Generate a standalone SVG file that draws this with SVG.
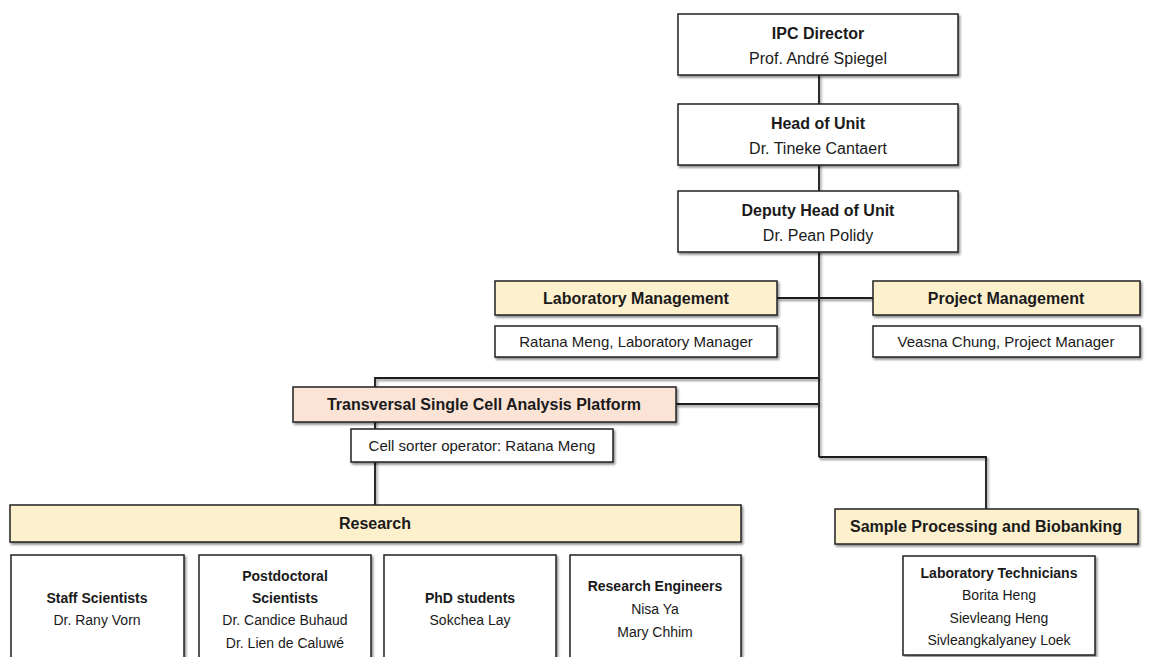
<svg xmlns="http://www.w3.org/2000/svg" width="1150" height="657" viewBox="0 0 1150 657">
<defs>
<filter id="sh" x="-10%" y="-10%" width="120%" height="130%">
<feDropShadow dx="1.5" dy="2" stdDeviation="1.2" flood-color="#000" flood-opacity="0.45"/>
</filter>
<style>
.box{fill:#fff;stroke:#222;stroke-width:1.5;filter:url(#sh)}
.hdr{fill:#fdf0cd;stroke:#222;stroke-width:1.5;filter:url(#sh)}
.pk{fill:#fbe3d6;stroke:#222;stroke-width:1.5;filter:url(#sh)}
.ln{fill:none;stroke:#1a1a1a;stroke-width:1.8}
text{font-family:"Liberation Sans",Arial,sans-serif;fill:#1a1a1a;text-anchor:middle}
.b{font-weight:bold}
.t16{font-size:16px}
.t15{font-size:15px}
.t14{font-size:14px}
</style>
</defs>
<rect width="1150" height="657" fill="#fff"/>
<g id="connectors" filter="url(#sh)">
<line class="ln" x1="819" y1="75" x2="819" y2="457"/>
<line class="ln" x1="777" y1="298" x2="873" y2="298"/>
<path class="ln" d="M819,378 H375 V505"/>
<line class="ln" x1="676" y1="404" x2="819" y2="404"/>
<path class="ln" d="M819,457 H986 V509"/>
</g>
<g id="ipc-director">
<rect class="box" x="678" y="14" width="280" height="61"/>
<text class="b t16" x="818" y="39">IPC Director</text>
<text class="t16" x="818" y="64">Prof. André Spiegel</text>
</g>
<g id="head-of-unit">
<rect class="box" x="678" y="104" width="280" height="61"/>
<text class="b t16" x="818" y="129">Head of Unit</text>
<text class="t16" x="818" y="154">Dr. Tineke Cantaert</text>
</g>
<g id="deputy-head">
<rect class="box" x="678" y="191" width="280" height="61"/>
<text class="b t16" x="818" y="216">Deputy Head of Unit</text>
<text class="t16" x="818" y="241">Dr. Pean Polidy</text>
</g>
<g id="lab-management">
<rect class="hdr" x="495" y="281" width="282" height="34"/>
<text class="b t16" x="636" y="304">Laboratory Management</text>
</g>
<g id="lab-manager">
<rect class="box" x="495" y="326" width="282" height="31"/>
<text class="t15" x="636" y="347">Ratana Meng, Laboratory Manager</text>
</g>
<g id="project-management">
<rect class="hdr" x="873" y="281" width="267" height="34"/>
<text class="b t16" x="1006" y="304">Project Management</text>
</g>
<g id="project-manager">
<rect class="box" x="873" y="326" width="267" height="31"/>
<text class="t15" x="1006" y="347">Veasna Chung, Project Manager</text>
</g>
<g id="transversal-platform">
<rect class="pk" x="293" y="387" width="383" height="35"/>
<text class="b t16" x="484" y="410">Transversal Single Cell Analysis Platform</text>
</g>
<g id="cell-sorter">
<rect class="box" x="351" y="429" width="262" height="33"/>
<text class="t15" x="482" y="451">Cell sorter operator: Ratana Meng</text>
</g>
<g id="research">
<rect class="hdr" x="10" y="505" width="731" height="37"/>
<text class="b t16" x="375" y="529">Research</text>
</g>
<g id="staff-scientists">
<rect class="box" x="11" y="555" width="173" height="110"/>
<text class="b t14" x="97" y="603">Staff Scientists</text>
<text class="t14" x="97" y="625">Dr. Rany Vorn</text>
</g>
<g id="postdoctoral-scientists">
<rect class="box" x="199" y="555" width="172" height="110"/>
<text class="b t14" x="285" y="581">Postdoctoral</text>
<text class="b t14" x="285" y="603">Scientists</text>
<text class="t14" x="285" y="625">Dr. Candice Buhaud</text>
<text class="t14" x="285" y="648">Dr. Lien de Caluwé</text>
</g>
<g id="phd-students">
<rect class="box" x="384" y="555" width="172" height="110"/>
<text class="b t14" x="470" y="603">PhD students</text>
<text class="t14" x="470" y="625">Sokchea Lay</text>
</g>
<g id="research-engineers">
<rect class="box" x="570" y="555" width="171" height="110"/>
<text class="b t14" x="655" y="591">Research Engineers</text>
<text class="t14" x="655" y="614">Nisa Ya</text>
<text class="t14" x="655" y="637">Mary Chhim</text>
</g>
<g id="sample-processing">
<rect class="hdr" x="835" y="509" width="303" height="35"/>
<text class="b t16" x="986" y="532">Sample Processing and Biobanking</text>
</g>
<g id="lab-technicians">
<rect class="box" x="903" y="556" width="192" height="99"/>
<text class="b t14" x="999" y="578">Laboratory Technicians</text>
<text class="t14" x="999" y="600">Borita Heng</text>
<text class="t14" x="999" y="623">Sievleang Heng</text>
<text class="t14" x="999" y="645">Sivleangkalyaney Loek</text>
</g>
</svg>
